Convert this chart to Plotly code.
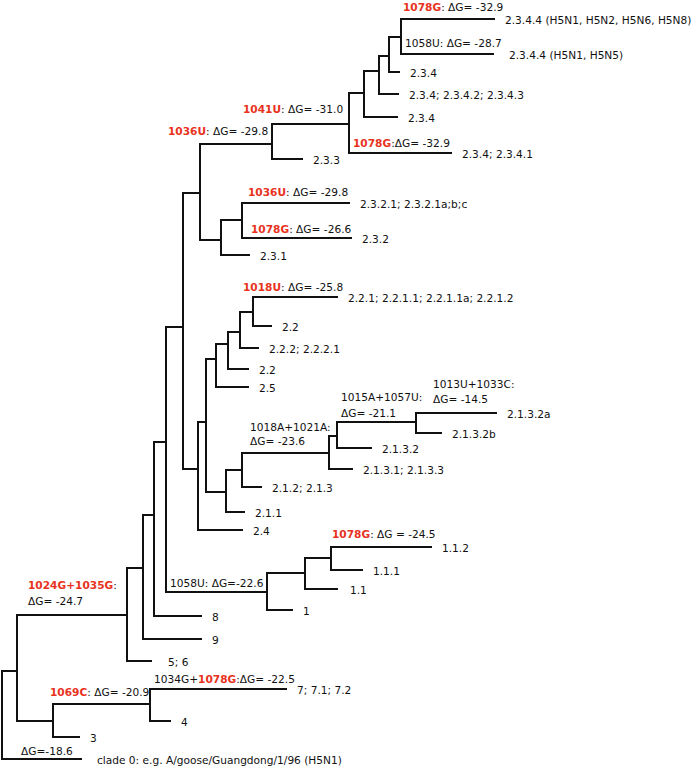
import plotly.graph_objects as go

# ---- tree data: node id, parent, branch-end position (x), row position (y), leaf label ----
node_ids = ["R", "clade0", "A", "B", "E", "F", "H", "I", "P23", "U1", "T5", "T4", "T3", "T2", "T1",
            "L1", "L2", "L3", "L4", "L5", "L6", "L7", "Q", "R2", "L8", "L9", "L10",
            "K", "S5", "S4", "S3", "S2", "S1", "L11", "L12", "L13", "L14", "L15",
            "M", "N", "O", "O2", "O3", "L16", "L17", "L18", "L19", "L20", "L21", "L22",
            "G", "V2", "V1", "L23", "L24", "L25", "L26", "L27", "L28", "L29",
            "C", "D", "L30", "L31", "L32"]
node_parent = [None, "R", "R", "A", "B", "E", "F", "H", "I", "P23", "U1", "T5", "T4", "T3", "T2",
               "T1", "T1", "T2", "T3", "T4", "T5", "U1", "P23", "Q", "R2", "R2", "Q",
               "I", "K", "S5", "S4", "S3", "S2", "S1", "S1", "S2", "S3", "S4",
               "S5", "M", "N", "O", "O2", "O3", "O3", "O2", "O", "N", "M", "K",
               "H", "G", "V2", "V1", "V1", "V2", "G", "F", "E", "B",
               "A", "C", "D", "D", "C"]
node_x = [2, 82, 17, 127, 143, 154, 166, 183, 200, 272, 349, 364, 379, 389, 401,
          495, 494, 400, 399, 398, 452, 303, 221, 242, 350, 352, 250,
          198, 206, 216, 228, 240, 253, 338, 272, 259, 249, 249,
          226, 242, 329, 337, 416, 497, 442, 372, 353, 262, 245, 243,
          267, 305, 331, 432, 363, 338, 293, 202, 202, 152,
          53, 150, 287, 171, 80]
node_y = [715, 759, 671, 615, 568, 515, 442, 327, 193, 144, 124, 93, 71, 56, 37,
          19, 54, 72, 94, 117, 153, 159, 240, 220, 203, 238, 255,
          469, 422, 359, 344, 332, 312, 297, 326, 348, 369, 387,
          492, 470, 453, 436, 422, 413, 433, 448, 469, 487, 512, 530,
          592, 573, 558, 547, 570, 589, 610, 616, 639, 661,
          721, 704, 689, 721, 737]
leaf_labels = ["", "clade 0: e.g. A/goose/Guangdong/1/96 (H5N1)", "", "", "", "", "", "", "", "", "", "", "", "", "",
               "2.3.4.4 (H5N1, H5N2, H5N6, H5N8)", "2.3.4.4 (H5N1, H5N5)", "2.3.4",
               "2.3.4; 2.3.4.2; 2.3.4.3", "2.3.4", "2.3.4; 2.3.4.1", "2.3.3", "", "",
               "2.3.2.1; 2.3.2.1a;b;c", "2.3.2", "2.3.1",
               "", "", "", "", "", "", "2.2.1; 2.2.1.1; 2.2.1.1a; 2.2.1.2", "2.2", "2.2.2; 2.2.2.1", "2.2", "2.5",
               "", "", "", "", "", "2.1.3.2a", "2.1.3.2b", "2.1.3.2", "2.1.3.1; 2.1.3.3", "2.1.2; 2.1.3", "2.1.1", "2.4",
               "", "", "", "1.1.2", "1.1.1", "1.1", "1", "8", "9", "5; 6",
               "", "", "7; 7.1; 7.2", "4", "3"]

RED = "#E8321E"


def red(t):
    return '<span style="color:%s"><b>%s</b></span>' % (RED, t)


# mutation / free-energy annotations attached to branches: (node, lines)
branch_nodes = ["L1", "L2", "T5", "U1", "L6", "L8", "L9", "L11", "L16", "O3", "O",
                "L23", "G", "B", "L30", "D", "clade0"]
branch_texts = [
    [red("1078G") + ": ΔG= -32.9"],
    ["1058U: ΔG= -28.7"],
    [red("1041U") + ": ΔG= -31.0"],
    [red("1036U") + ": ΔG= -29.8"],
    [red("1078G") + ":ΔG= -32.9"],
    [red("1036U") + ": ΔG= -29.8"],
    [red("1078G") + ": ΔG= -26.6"],
    [red("1018U") + ": ΔG= -25.8"],
    ["1013U+1033C:", "ΔG= -14.5"],
    ["1015A+1057U:", "ΔG= -21.1"],
    ["1018A+1021A:", "ΔG= -23.6"],
    [red("1078G") + ": ΔG = -24.5"],
    ["1058U: ΔG=-22.6"],
    [red("1024G+1035G") + ":", "ΔG= -24.7"],
    ["1034G+" + red("1078G") + ":ΔG= -22.5"],
    [red("1069C") + ": ΔG= -20.9"],
    ["ΔG=-18.6"],
]
# placement of those annotations relative to the branch (layout only)
branch_dx = [0, 2, -31, -34, 2, 4, 7, -12, 15, 2, 6, -1, 2, 9, 2, -5, 17]
branch_dy = [[-12], [-11], [-15], [-13], [-10], [-11], [-9], [-10], [-29, -14], [-25, -9],
             [-26, -12], [-13], [-9], [-30, -14], [-10], [-12], [-8]]

label_gap = {"clade0": 13, "L29": 14, "L25": 10, "L2": 13}

pos = {n: (x, y) for n, x, y in zip(node_ids, node_x, node_y)}
par = dict(zip(node_ids, node_parent))
children = {}
for n, p in zip(node_ids, node_parent):
    if p is not None:
        children.setdefault(p, []).append(n)

xs, ys = [], []
for n, kids in children.items():
    kids = sorted(kids, key=lambda k: pos[k][1])
    nx = pos[n][0]
    top, bot = kids[0], kids[-1]
    xs += [pos[top][0], nx, nx, pos[bot][0], None]
    ys += [pos[top][1], pos[top][1], pos[bot][1], pos[bot][1], None]
    for mid in kids[1:-1]:
        xs += [nx, pos[mid][0], None]
        ys += [pos[mid][1], pos[mid][1], None]

fig = go.Figure()
fig.add_trace(go.Scatter(x=xs, y=ys, mode="lines",
                         line=dict(color="#111111", width=2),
                         hoverinfo="skip", showlegend=False, cliponaxis=False))

FONT = dict(family="DejaVu Sans", size=10.6, color="#111111")
ann = []
for n, lab in zip(node_ids, leaf_labels):
    if lab:
        x, y = pos[n]
        ann.append(dict(x=x + label_gap.get(n, 8), y=y + 1, text=lab, xanchor="left",
                        yanchor="middle", showarrow=False, font=FONT))
for n, lines, dx, dys in zip(branch_nodes, branch_texts, branch_dx, branch_dy):
    px = pos[par[n]][0]
    y = pos[n][1]
    for t, d in zip(lines, dys):
        ann.append(dict(x=px + dx, y=y + d, text=t, xanchor="left", yanchor="middle",
                        showarrow=False, font=FONT))

fig.update_layout(
    width=697, height=768,
    margin=dict(l=0, r=0, t=0, b=0),
    paper_bgcolor="white", plot_bgcolor="white",
    xaxis=dict(range=[0, 697], visible=False, fixedrange=True),
    yaxis=dict(range=[768, 0], visible=False, fixedrange=True),
    annotations=ann,
    showlegend=False,
)
fig.write_html("out.html", config={"displayModeBar": False},
               post_script="document.body.style.margin='0px';document.body.style.overflow='hidden';")
